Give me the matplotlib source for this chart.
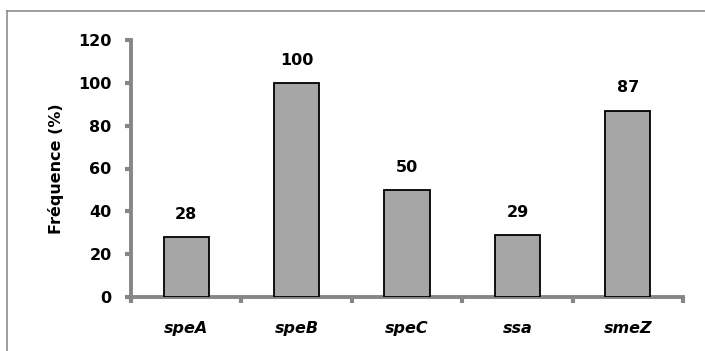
import matplotlib.pyplot as plt
from matplotlib.lines import Line2D
import numpy as np

genes = ["speA", "speB", "speC", "ssa", "smeZ"]
freq = [28, 100, 50, 29, 87]
y_ticks = [0, 20, 40, 60, 80, 100, 120]

plt.rcParams["font.family"] = ["DejaVu Sans"]

fig = plt.figure(figsize=(7.05, 3.51), dpi=100)
ax = fig.add_axes([131 / 705, 1 - 297 / 351, (683 - 131) / 705, (297 - 40) / 351])

# outer frame (only top and left edges show)
fig.add_artist(Line2D([7 / 705, 1.0], [1 - 11 / 351, 1 - 11 / 351], transform=fig.transFigure,
                      color="#8c8c8c", linewidth=1.2))
fig.add_artist(Line2D([7 / 705, 7 / 705], [0.0, 1 - 11 / 351], transform=fig.transFigure,
                      color="#8c8c8c", linewidth=1.2))

x = np.arange(len(genes))
bars = ax.bar(x, freq, width=0.41, color="#a6a6a6", edgecolor="black", linewidth=1.3, zorder=3)

for xi, v in zip(x, freq):
    ax.annotate(str(v), (xi, v), xytext=(0, 11), textcoords="offset points",
                ha="center", va="bottom", fontsize=11.5, fontweight="bold")

ax.set_xlim(-0.5, len(genes) - 0.5)
ax.set_ylim(0, 120)
ax.set_yticks(y_ticks)
ax.set_yticklabels([str(t) for t in y_ticks], fontsize=11.5, fontweight="bold")
ax.set_xticks(x)
ax.set_xticklabels(genes, fontsize=11.5, fontweight="bold", style="italic")
ax.set_xticks(np.arange(len(genes) + 1) - 0.5, minor=True)
ax.tick_params(axis="x", which="major", length=0, pad=17)
ax.tick_params(axis="x", which="minor", length=4, width=3, color="#868686")
ax.tick_params(axis="y", length=4, width=3, color="#868686", pad=10)

ax.set_ylabel("Fréquence (%)", fontsize=11.5, fontweight="bold", labelpad=10)

for s in ["top", "right"]:
    ax.spines[s].set_visible(False)
for s in ["left", "bottom"]:
    ax.spines[s].set_color("#868686")
    ax.spines[s].set_linewidth(2.8)

fig.savefig("out.png", dpi=100)
